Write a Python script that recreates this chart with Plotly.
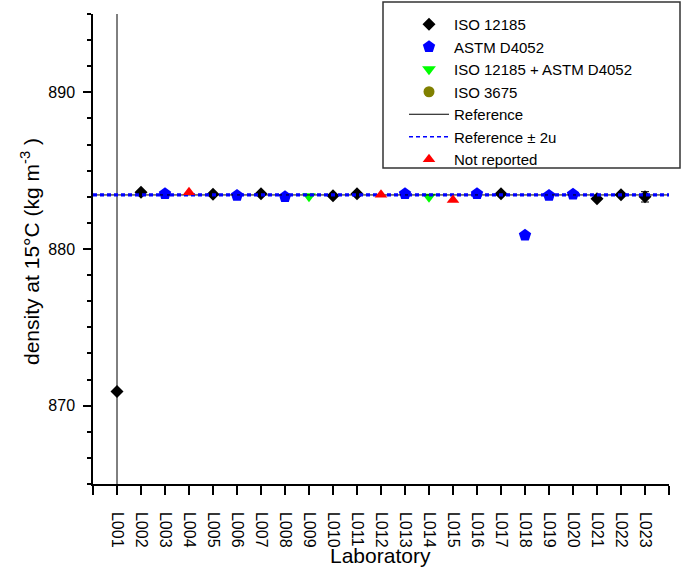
import plotly.graph_objects as go

# Interlaboratory results: density at 15 °C per laboratory
labs = ["L001", "L002", "L003", "L004", "L005", "L006", "L007", "L008",
        "L009", "L010", "L011", "L012", "L013", "L014", "L015", "L016",
        "L017", "L018", "L019", "L020", "L021", "L022", "L023"]

# method used by each laboratory
methods = ["ISO 12185", "ISO 12185", "ASTM D4052", "Not reported", "ISO 12185",
           "ASTM D4052", "ISO 12185", "ASTM D4052", "ISO 12185 + ASTM D4052",
           "ISO 12185", "ISO 12185", "Not reported", "ASTM D4052",
           "ISO 12185 + ASTM D4052", "Not reported", "ASTM D4052", "ISO 12185",
           "ASTM D4052", "ASTM D4052", "ASTM D4052", "ISO 12185", "ISO 12185",
           "ISO 12185"]

density = [870.90, 883.63, 883.53, 883.62, 883.50, 883.42, 883.53, 883.33,
           883.37, 883.40, 883.52, 883.47, 883.52, 883.33, 883.12, 883.53,
           883.53, 880.88, 883.42, 883.50, 883.20, 883.47, 883.33]

# expanded uncertainty reported by laboratories (None = not reported)
uncertainty = [25.0, None, None, None, None, None, None, None, None, None,
               None, None, None, None, None, None, None, None, None, None,
               None, None, 0.33]

reference = 883.45
reference_2u = 0.05

y_range = [865, 895]
x_range = [0, 24]

FONT = "Liberation Sans, Arial, sans-serif"

styles = {
    "ISO 12185": dict(symbol="diamond", color="#000000", size=10),
    "ASTM D4052": dict(symbol="pentagon", color="#0000FF", size=13),
    "ISO 12185 + ASTM D4052": dict(symbol="triangle-down", color="#00FF00", size=12),
    "ISO 3675": dict(symbol="circle", color="#808000", size=11),
    "Not reported": dict(symbol="triangle-up", color="#FF0000", size=11),
}

xpos = list(range(1, len(labs) + 1))

fig = go.Figure()


def method_trace(name):
    idx = [i for i, m in enumerate(methods) if m == name]
    st = styles[name]
    xs = [xpos[i] for i in idx]
    ys = [density[i] for i in idx]
    errs = [uncertainty[i] for i in idx]
    err = None
    if any(e is not None for e in errs):
        err = dict(type="data", array=errs, visible=True, color="#000000",
                   thickness=1, width=4)
    if not xs:
        xs, ys = [None], [None]
    return go.Scatter(x=xs, y=ys, mode="markers", name=name,
                      marker=dict(symbol=st["symbol"], color=st["color"],
                                  size=st["size"], line=dict(width=0)),
                      error_y=err, cliponaxis=True)


for name in ["ISO 12185", "ASTM D4052", "ISO 12185 + ASTM D4052", "ISO 3675"]:
    fig.add_trace(method_trace(name))

dash_2u = dict(color="#0000FF", width=1.6, dash="4px,3px")
fig.add_trace(go.Scatter(x=x_range, y=[reference, reference], mode="lines",
                         name="Reference",
                         line=dict(color="#000000", width=1)))
fig.add_trace(go.Scatter(x=x_range, y=[reference + reference_2u] * 2,
                         mode="lines", name="Reference ± 2u", line=dash_2u))
fig.add_trace(go.Scatter(x=x_range, y=[reference - reference_2u] * 2,
                         mode="lines", name="Reference ± 2u", showlegend=False,
                         line=dash_2u))
fig.add_trace(method_trace("Not reported"))

fig.update_layout(
    width=686, height=569,
    margin=dict(l=93, r=17, t=14, b=85, autoexpand=False),
    paper_bgcolor="white", plot_bgcolor="white",
    font=dict(family=FONT, size=16, color="#000000"),
    showlegend=True,
    legend=dict(x=(404 - 93) / 576, y=(484 - 8) / 470, xanchor="left",
                yanchor="top", bgcolor="rgba(0,0,0,0)", borderwidth=0,
                font=dict(family=FONT, size=15), itemwidth=40,
                traceorder="normal"),
    xaxis=dict(range=x_range, tickmode="array", tickvals=xpos,
               ticktext=labs, tickangle=90, ticks="outside", ticklen=9,
               tickwidth=1.5, tickcolor="#000000", ticklabelstandoff=14,
               showline=True, linewidth=1.5, linecolor="#000000",
               showgrid=False, zeroline=False,
               tickfont=dict(family=FONT, size=16),
               minor=dict(dtick=1, tick0=0, ticks="outside", ticklen=9,
                          tickwidth=1.5, tickcolor="#000000",
                          showgrid=False)),
    yaxis=dict(range=y_range, dtick=10, tick0=0, ticks="outside", ticklen=8,
               tickwidth=1.5, tickcolor="#000000", ticklabelstandoff=5,
               showline=True, linewidth=1.5, linecolor="#000000",
               showgrid=False, zeroline=False,
               tickfont=dict(family=FONT, size=16),
               minor=dict(dtick=10 / 6, tick0=0, ticks="outside", ticklen=4,
                          tickwidth=1.5, tickcolor="#000000", showgrid=False)),
    shapes=[dict(type="rect", xref="paper", yref="paper",
                 x0=(383 - 93) / 576, x1=(680 - 93) / 576,
                 y0=(484 - 168) / 470, y1=(484 - 2) / 470,
                 line=dict(color="#333333", width=1.5), layer="above")],
    annotations=[
        dict(text="Laboratory", xref="paper", yref="paper", x=0.4995,
             y=(484 - 555) / 470, xanchor="center", yanchor="middle",
             showarrow=False, font=dict(family=FONT, size=21)),
        dict(text="density at 15°C (kg m<sup>-3</sup> )", xref="paper",
             yref="paper", x=(30 - 93) / 576, y=(484 - 252) / 470,
             xanchor="center", yanchor="middle", textangle=-90,
             showarrow=False, font=dict(family=FONT, size=21)),
    ],
)

fig.write_html("out.html")
